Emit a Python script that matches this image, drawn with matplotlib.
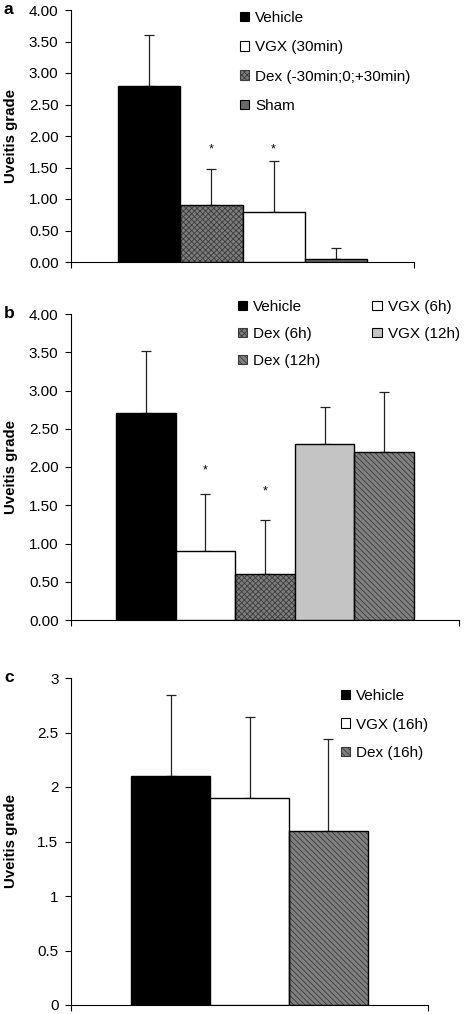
import matplotlib
matplotlib.use("Agg")
import matplotlib.pyplot as plt
import numpy as np
from matplotlib.patches import Patch
from matplotlib.ticker import FormatStrFormatter, FuncFormatter

plt.rcParams["font.family"] = ["Liberation Sans", "DejaVu Sans"]
plt.rcParams["hatch.linewidth"] = 0.6

# panel a
a_bars = ["Vehicle", "Dex (-30min;0;+30min)", "VGX (30min)", "Sham"]
a_means = [2.80, 0.91, 0.80, 0.05]
a_err = [0.80, 0.56, 0.80, 0.17]
a_star = [None, 1.78, 1.78, None]
a_legend = ["Vehicle", "VGX (30min)", "Dex (-30min;0;+30min)", "Sham"]

# panel b
b_bars = ["Vehicle", "VGX (6h)", "Dex (6h)", "VGX (12h)", "Dex (12h)"]
b_means = [2.70, 0.90, 0.60, 2.30, 2.20]
b_err = [0.82, 0.75, 0.71, 0.48, 0.78]
b_star = [None, 1.95, 1.68, None, None]
b_legend = ["Vehicle", "Dex (6h)", "Dex (12h)", "VGX (6h)", "VGX (12h)"]

# panel c
c_bars = ["Vehicle", "VGX (16h)", "Dex (16h)"]
c_means = [2.10, 1.90, 1.60]
c_err = [0.74, 0.74, 0.84]
c_star = [None, None, None]
c_legend = ["Vehicle", "VGX (16h)", "Dex (16h)"]

STYLES = {
    "Vehicle": dict(face="black", hatch=None, hcol=None),
    "VGX (30min)": dict(face="white", hatch=None, hcol=None),
    "VGX (6h)": dict(face="white", hatch=None, hcol=None),
    "VGX (16h)": dict(face="white", hatch=None, hcol=None),
    "VGX (12h)": dict(face="#c4c4c4", hatch=None, hcol=None),
    "Sham": dict(face="#6a6a6a", hatch=None, hcol=None),
    "Dex (-30min;0;+30min)": dict(face="#7c7c7c", hatch="xxxxxx", hcol="#3c3c3c"),
    "Dex (6h)": dict(face="#7c7c7c", hatch="xxxxxx", hcol="#3c3c3c"),
    "Dex (12h)": dict(face="#808080", hatch="\\\\\\\\\\\\", hcol="#3a3a3a"),
    "Dex (16h)": dict(face="#808080", hatch="\\\\\\\\\\\\", hcol="#3a3a3a"),
}

W, H = 470, 1014
fig = plt.figure(figsize=(W / 100, H / 100), dpi=100)


def fx(px):
    return px / W


def fy(py):
    return 1 - py / H


def draw_panel(rect_px, bars, means, err, stars, legend, ymax, step, fmt,
               letter, leg_px, ncol=1, colspace=2.0, lspace=0.9):
    left, top, right, bottom = rect_px
    ax = fig.add_axes([fx(left), fy(bottom), fx(right) - fx(left), fy(top) - fy(bottom)])
    x = np.arange(len(bars))
    for xi, name, m in zip(x, bars, means):
        st = STYLES[name]
        if st["hatch"]:
            ax.bar(xi, m, width=1.0, color=st["face"], edgecolor=st["hcol"],
                   hatch=st["hatch"], linewidth=0, zorder=2)
            ax.bar(xi, m, width=1.0, color="none", edgecolor="black", linewidth=1.0, zorder=3)
        else:
            ax.bar(xi, m, width=1.0, color=st["face"], edgecolor="black", linewidth=1.0, zorder=3)
    ax.errorbar(x, means, yerr=[np.zeros(len(err)), err], fmt="none", ecolor="#222222",
                elinewidth=0.9, capsize=3.5, capthick=0.9, zorder=1)
    for xi, s in zip(x, stars):
        if s is not None:
            ax.text(xi, s, "*", ha="center", va="center", fontsize=9)
    pad = 0.76
    ax.set_xlim(-0.5 - pad, len(bars) - 0.5 + pad)
    ax.set_ylim(0, ymax)
    ax.set_yticks(np.arange(0, ymax + step / 2, step))
    ax.yaxis.set_major_formatter(fmt)
    ax.set_xticks(ax.get_xlim())
    ax.set_xticklabels([])
    ax.tick_params(axis="y", direction="out", length=4, width=0.8, labelsize=11, pad=5)
    ax.tick_params(axis="x", direction="out", length=4, width=0.8)
    for sp in ["top", "right"]:
        ax.spines[sp].set_visible(False)
    for sp in ["left", "bottom"]:
        ax.spines[sp].set_linewidth(0.8)
    ax.patch.set_alpha(0)

    handles = []
    for name in legend:
        st = STYLES[name]
        handles.append(Patch(facecolor=st["face"], edgecolor="black" if not st["hatch"] else st["hcol"],
                             hatch=st["hatch"], linewidth=0.8, label=name))
    ax.legend(handles=handles, loc="upper left", bbox_to_anchor=(fx(leg_px[0]), fy(leg_px[1])),
              bbox_transform=fig.transFigure, frameon=False, fontsize=11, ncol=ncol,
              handlelength=0.6, handleheight=0.6, handletextpad=0.4, labelspacing=lspace,
              borderpad=0, borderaxespad=0, columnspacing=colspace)

    mid = (top + bottom) / 2
    fig.text(fx(11), fy(mid), "Uveitis grade", rotation=90, ha="center", va="center",
             fontsize=10.8, fontweight="bold")
    fig.text(fx(4), fy(top - 1), letter, ha="left", va="center", fontsize=12.5, fontweight="bold")
    return ax


fmt2 = FormatStrFormatter("%.2f")
fmtg = FuncFormatter(lambda v, p: f"{v:g}")

draw_panel((71, 10, 414, 262), a_bars, a_means, a_err, a_star, a_legend,
           4.0, 0.5, fmt2, "a", (240, 11), lspace=1.0)
draw_panel((71, 314, 459, 620), b_bars, b_means, b_err, b_star, b_legend,
           4.0, 0.5, fmt2, "b", (238, 300), ncol=2, colspace=3.4, lspace=0.85)
draw_panel((71, 678, 428, 1005), c_bars, c_means, c_err, c_star, c_legend,
           3.0, 0.5, fmtg, "c", (341, 689), lspace=0.95)

fig.savefig("out.png", dpi=100)
